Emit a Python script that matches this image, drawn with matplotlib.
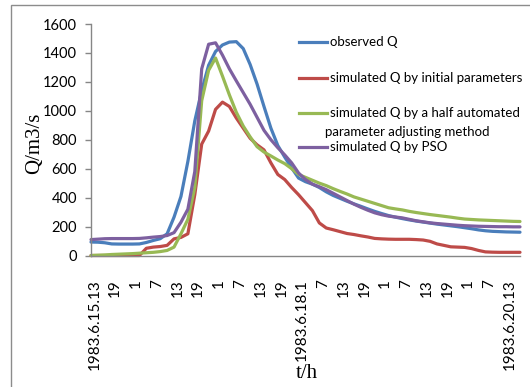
import matplotlib
matplotlib.use("Agg")
import matplotlib.pyplot as plt
from matplotlib.lines import Line2D
from matplotlib.patches import Rectangle

# time in hours since 1983.6.15 12:00
hours = list(range(0, 125, 2))

observed = [93, 92, 88, 80, 79, 79, 79, 80, 90, 104, 116, 150, 265, 408, 650, 930,
            1140, 1315, 1410, 1455, 1475, 1478, 1430, 1320, 1185, 1030, 880, 760, 680, 605,
            535, 510, 493, 470, 440, 415, 395, 375, 357, 340, 322, 305, 290, 276, 265, 255,
            246, 238, 231, 224, 217, 211, 205, 199, 192, 185, 177, 171, 167, 165, 163, 162, 161]

sim_initial = [0, 0, 0, 0, 0, 0, 0, 0, 50, 58, 62, 70, 115, 125, 150, 420,
               770, 860, 1010, 1060, 1030, 950, 880, 810, 765, 730, 640, 560, 525, 470,
               420, 365, 310, 225, 190, 178, 165, 152, 145, 136, 128, 118, 115, 113, 112, 112,
               112, 110, 107, 98, 80, 70, 60, 58, 56, 48, 35, 25, 23, 22, 22, 22, 22]

sim_half = [0, 2, 4, 7, 9, 11, 13, 16, 19, 22, 27, 35, 58, 150, 250, 470,
            1070, 1280, 1365, 1240, 1110, 990, 895, 820, 752, 715, 688, 660, 635, 600,
            560, 540, 520, 500, 483, 462, 443, 425, 405, 390, 375, 360, 345, 330, 322, 315,
            305, 297, 290, 283, 277, 271, 265, 258, 252, 249, 246, 244, 242, 240, 238, 236, 235]

sim_pso = [110, 113, 116, 117, 117, 117, 117, 118, 122, 127, 131, 138, 158, 230, 320, 580,
           1290, 1460, 1470, 1385, 1290, 1207, 1126, 1045, 955, 865, 800, 745, 695, 640,
           570, 525, 493, 475, 455, 430, 405, 380, 355, 333, 313, 295, 282, 272, 266, 260,
           250, 240, 233, 226, 221, 217, 213, 209, 206, 204, 202, 201, 200, 199, 199, 198, 198]

tick_hours = list(range(1, 122, 6))
tick_labels = ["1983.6.15.13", "19", "1", "7", "13", "19", "1", "7", "13", "19",
               "1983.6.18.1", "7", "13", "19", "1", "7", "13", "19", "1", "7", "1983.6.20.13"]

series_names = ["observed Q", "simulated Q by initial parameters",
                "simulated Q by a half automated\nparameter adjusting method",
                "simulated Q by PSO"]
colors = ["#4A7EBB", "#BE4B48", "#98B954", "#7D60A0"]

W, H = 530, 387
fig = plt.figure(figsize=(W / 100, H / 100), dpi=100)

# outer chart border
fig.add_artist(Rectangle((11 / W, -0.05), 1.2, (H - 4.5) / H + 0.05,
                         transform=fig.transFigure, fill=False,
                         edgecolor="#8c8c8c", lw=1.0))

ax_l, ax_r = 91 / W, 520 / W
ax_b, ax_t = (H - 255.5) / H, (H - 24) / H
ax = fig.add_axes([ax_l, ax_b, ax_r - ax_l, ax_t - ax_b])

series = [observed, sim_initial, sim_half, sim_pso]
for vals, c, name in zip(series, colors, series_names):
    ax.plot(hours, vals, color=c, lw=2.3, label=name, solid_joinstyle="round",
            solid_capstyle="round", clip_on=False)

ax.set_xlim(0, 124)
ax.set_ylim(0, 1600)
ax.set_yticks(range(0, 1601, 200))
ax.set_xticks(tick_hours)
ax.set_xticklabels(tick_labels, rotation=90, fontfamily="Lato", fontsize=11,
                   va="top", ha="center")
ax.tick_params(axis="x", length=0, pad=17)
ax.tick_params(axis="y", length=4, width=1, color="#868686", pad=6, labelsize=10.5)
for lab in ax.get_yticklabels():
    lab.set_fontfamily("Lato")
for s in ["top", "right"]:
    ax.spines[s].set_visible(False)
for s in ["left", "bottom"]:
    ax.spines[s].set_color("#868686")
    ax.spines[s].set_linewidth(1.0)

fig.text(35 / W, 1 - 143 / H, "Q/m3/s", rotation=90, ha="center", va="center",
         fontfamily="Liberation Serif", fontsize=15)
fig.text(307 / W, 1 - 374 / H, "t/h", ha="center", va="center",
         fontfamily="Liberation Serif", fontsize=15)

# legend (manual placement to match multi-line entry layout)
leg_rows = [42.3, 77.7, 113.3, 147.3]
for y, c, name in zip(leg_rows, colors, series_names):
    fig.add_artist(Line2D([299 / W, 327 / W], [1 - y / H, 1 - y / H],
                          transform=fig.transFigure, color=c, lw=2.3))
    lines = name.split("\n")
    fig.text(329.5 / W, 1 - y / H, lines[0], ha="left", va="center",
             fontfamily="Lato", fontsize=9.5)
    if len(lines) > 1:
        fig.text(325 / W, 1 - 132 / H, lines[1], ha="left", va="center",
                 fontfamily="Lato", fontsize=9.5)

fig.savefig("out.png", dpi=100)
